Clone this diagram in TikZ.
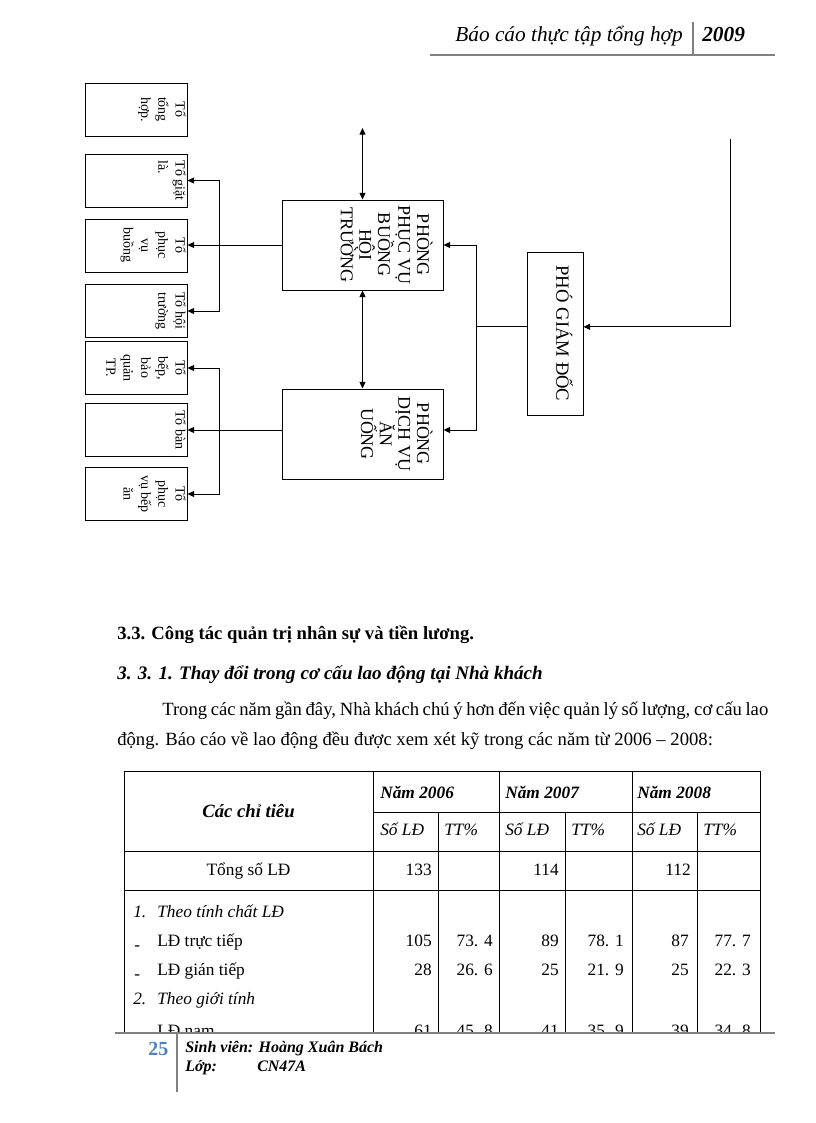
\documentclass[tikz,border=0pt]{standalone}
\usepackage{fontspec}
\setmainfont{Liberation Serif}
\usetikzlibrary{arrows.meta, positioning, calc}
\definecolor{rulegray}{RGB}{128,128,128}
\definecolor{pageblue}{RGB}{79,129,189}

\begin{document}
\begin{tikzpicture}[x=0.75pt, y=-0.75pt,
    >={Triangle[length=5pt,width=4.5pt]},
    conn/.style={line width=0.75pt},
    tobox/.style={rectangle, draw, line width=0.7pt, minimum width=76.5pt, minimum height=39.75pt, inner sep=0pt},
    tolbl/.style={rotate=-90, anchor=north, align=center, inner sep=0pt, font=\fontsize{10.5}{13}\selectfont},
    pbox/.style={rectangle, draw, line width=0.7pt, minimum width=120.75pt, minimum height=67.5pt, inner sep=0pt},
    plbl/.style={rotate=-90, anchor=north, align=center, inner sep=0pt, font=\fontsize{13.5}{14}\selectfont},
    rule/.style={rulegray, line width=2.2pt},
    tline/.style={line width=0.6pt},
    txt/.style={anchor=base west, inner sep=0pt, font=\fontsize{13}{15}\selectfont},
    num/.style={anchor=base east, inner sep=0pt, font=\fontsize{13}{15}\selectfont}
]
\useasboundingbox (0,0) rectangle (816,1123);

% header
\node[anchor=base east, inner sep=0pt, font=\fontsize{16}{18}\selectfont\itshape] (htitle) at (683,42) {Báo cáo thực tập tổng hợp};
\node[anchor=base west, inner sep=0pt, font=\fontsize{16}{18}\selectfont\bfseries\itshape] (hyear) at (702,42) {2009};
\draw[rule] (430,55) -- (775,55);
\draw[rule] (693,22) -- (693,55);

% left column
\node[tobox] (ttonghop) at (136,109.5) {};
\node[tobox] (tgiatla) at (136,180.5) {};
\node[tobox] (tpvbuong) at (136,245.5) {};
\node[tobox] (thoitruong) at (136,311) {};
\node[tobox] (tbep) at (136,368) {};
\node[tobox] (tban) at (136,430) {};
\node[tobox] (tpvbep) at (136,494) {};
\node[tolbl] (ttonghopL) at ([xshift=-1pt]ttonghop.east) {Tổ\\tổng\\hợp.};
\node[tolbl, align=left] (tgiatlaL) at ([xshift=-1pt]tgiatla.east) {Tổ giặt\\là.};
\node[tolbl] (tpvbuongL) at ([xshift=-1pt]tpvbuong.east) {Tổ\\phục\\vụ\\buồng};
\node[tolbl, align=left] (thoitruongL) at ([xshift=-1pt]thoitruong.east) {Tổ hội\\trường};
\node[tolbl] (tbepL) at ([xshift=-1pt]tbep.east) {Tổ\\bếp,\\bảo\\quản\\TP.};
\node[tolbl] (tbanL) at ([xshift=-1pt]tban.east) {Tổ bàn};
\node[tolbl] (tpvbepL) at ([xshift=-1pt]tpvbep.east) {Tổ\\phục\\vụ bếp\\ăn};

% departments
\node[pbox] (ppv) at (362.5,245) {};
\node[pbox] (pdv) at (362.5,434) {};
\node[plbl] (ppvL) at ([xshift=-8pt]ppv.east) {PHÒNG\\PHỤC VỤ\\BUỒNG\\HỘI\\TRƯỜNG};
\node[plbl] (pdvL) at ([xshift=-8pt]pdv.east) {PHÒNG\\DỊCH VỤ\\ĂN\\UỐNG};
\node[rectangle, draw, line width=0.7pt, minimum width=42pt, minimum height=122.25pt] (pgd) at (555,333.5) {};
\node[plbl, anchor=base, font=\fontsize{14}{16}\selectfont] (pgdL) at ([xshift=1pt]pgd.center) {PHÓ GIÁM ĐỐC};

\coordinate (ptop) at (362.5,128);
\coordinate (busl) at (219,0);
\coordinate (busr) at (476,0);
\coordinate (gdtop) at (730,139);

\draw[conn, <->] (ptop) -- (ppv.north);
\draw[conn, <->] (ppv.south) -- (pdv.north);
\draw[conn, ->] (ppv.west) -- (ppv.west -| tpvbuong.east);
\draw[conn, <->] (tgiatla.east) -- (tgiatla.east -| busl) -- (thoitruong.east -| busl) -- (thoitruong.east);
\draw[conn, ->] (tban.east -| pdv.west) -- (tban.east);
\draw[conn, <->] (tbep.east) -- (tbep.east -| busl) -- (tpvbep.east -| busl) -- (tpvbep.east);
\draw[conn, <->] (ppv.east) -- (ppv.east -| busr) -- ([yshift=3pt]pdv.east -| busr) -- ([yshift=3pt]pdv.east);
\draw[conn] ([yshift=5pt]pgd.west) -- ([yshift=5pt]pgd.west -| busr);
\draw[conn, ->] (gdtop) |- ([yshift=5pt]pgd.east);

% section text
\node[anchor=base west, inner sep=0pt, font=\fontsize{14}{16}\selectfont\bfseries] (sec) at (117,639) {3.3. Công tác quản trị nhân sự và tiền lương.};
\node[anchor=base west, inner sep=0pt, font=\fontsize{14.3}{16}\selectfont\bfseries\itshape] (subsec) at (117,679) {3. 3. 1. Thay đổi trong cơ cấu lao động tại Nhà khách};
\node[anchor=base west, inner sep=0pt, font=\fontsize{14}{16}\selectfont] (par1) at (162,715) {\makebox[454.5pt][s]{Trong các năm gần đây, Nhà khách chú ý hơn đến việc quản lý số lượng, cơ cấu lao}};
\node[anchor=base west, inner sep=0pt, font=\fontsize{14}{16}\selectfont] (par2) at (117,745) {động. Báo cáo về lao động đều được xem xét kỹ trong các năm từ 2006 – 2008:};

% table
\begin{scope}
\clip (0,0) rectangle (816,1031);
\draw[tline] (124,771) -- (760,771);
\draw[tline] (373,812) -- (760,812);
\draw[tline] (124,851) -- (760,851);
\draw[tline] (124,890) -- (760,890);
\draw[tline] (124,771) -- (124,1045);
\draw[tline] (373,771) -- (373,1045);
\draw[tline] (499,771) -- (499,1045);
\draw[tline] (632,771) -- (632,1045);
\draw[tline] (760,771) -- (760,1045);
\draw[tline] (438,812) -- (438,1045);
\draw[tline] (565,812) -- (565,1045);
\draw[tline] (697,812) -- (697,1045);

\node[txt, anchor=base, font=\fontsize{14}{16}\selectfont\bfseries\itshape] (hchitieu) at (248.5,817) {Các chỉ tiêu};
\node[txt, font=\fontsize{13}{15}\selectfont\bfseries\itshape] (h2006) at (380,798) {Năm 2006};
\node[txt, font=\fontsize{13}{15}\selectfont\bfseries\itshape] (h2007) at (505,798) {Năm 2007};
\node[txt, font=\fontsize{13}{15}\selectfont\bfseries\itshape] (h2008) at (637,798) {Năm 2008};
\node[txt, font=\fontsize{13}{15}\selectfont\itshape] (hsl06) at (380,835) {Số LĐ};
\node[txt, font=\fontsize{13}{15}\selectfont\itshape] (htt06) at (444,835) {TT\%};
\node[txt, font=\fontsize{13}{15}\selectfont\itshape] (hsl07) at (505,835) {Số LĐ};
\node[txt, font=\fontsize{13}{15}\selectfont\itshape] (htt07) at (571,835) {TT\%};
\node[txt, font=\fontsize{13}{15}\selectfont\itshape] (hsl08) at (637,835) {Số LĐ};
\node[txt, font=\fontsize{13}{15}\selectfont\itshape] (htt08) at (703,835) {TT\%};

\node[txt, anchor=base] (rtong) at (248.5,875) {Tổng số LĐ};
\node[num] (rtong06) at (432,875) {133};
\node[num] (rtong07) at (559,875) {114};
\node[num] (rtong08) at (691,875) {112};

\node[txt, font=\fontsize{13}{15}\selectfont\itshape] (rt1n) at (133,917) {1.};
\node[txt, font=\fontsize{13}{15}\selectfont\itshape] (rt1) at (157,917) {Theo tính chất LĐ};
\node[txt] (rtt) at (157,946) {LĐ trực tiếp};
\node[txt] (rtd1) at (134,950) {-};
\node[num] (rtt06) at (432,946) {105};
\node[num] (rtt06p) at (493,946) {73. 4};
\node[num] (rtt07) at (559,946) {89};
\node[num] (rtt07p) at (624,946) {78. 1};
\node[num] (rtt08) at (689,946) {87};
\node[num] (rtt08p) at (751,946) {77. 7};
\node[txt] (rgt) at (157,975) {LĐ gián tiếp};
\node[txt] (rtd2) at (134,979) {-};
\node[num] (rgt06) at (432,975) {28};
\node[num] (rgt06p) at (493,975) {26. 6};
\node[num] (rgt07) at (559,975) {25};
\node[num] (rgt07p) at (624,975) {21. 9};
\node[num] (rgt08) at (689,975) {25};
\node[num] (rgt08p) at (751,975) {22. 3};
\node[txt, font=\fontsize{13}{15}\selectfont\itshape] (rt2n) at (133,1004) {2.};
\node[txt, font=\fontsize{13}{15}\selectfont\itshape] (rt2) at (157,1004) {Theo giới tính};
\node[txt] (rnam) at (157,1036) {LĐ nam};
\node[num] (rnam06) at (432,1036) {61};
\node[num] (rnam06p) at (493,1036) {45. 8};
\node[num] (rnam07) at (559,1036) {41};
\node[num] (rnam07p) at (624,1036) {35. 9};
\node[num] (rnam08) at (689,1036) {39};
\node[num] (rnam08p) at (751,1036) {34. 8};
\end{scope}

% footer
\draw[rule] (115,1033) -- (775,1033);
\draw[rule] (177,1033) -- (177,1092);
\node[anchor=base west, inner sep=0pt, text=pageblue, font=\fontsize{15}{17}\selectfont\bfseries] (pnum) at (148,1055) {25};
\node[anchor=base west, inner sep=0pt, font=\fontsize{12}{14}\selectfont\bfseries\itshape] (sv) at (185,1052) {Sinh viên: Hoàng Xuân Bách};
\node[anchor=base west, inner sep=0pt, font=\fontsize{12}{14}\selectfont\bfseries\itshape] (lop) at (185,1071) {Lớp:};
\node[anchor=base west, inner sep=0pt, font=\fontsize{12}{14}\selectfont\bfseries\itshape] (lopv) at (257,1071) {CN47A};
\end{tikzpicture}
\end{document}
